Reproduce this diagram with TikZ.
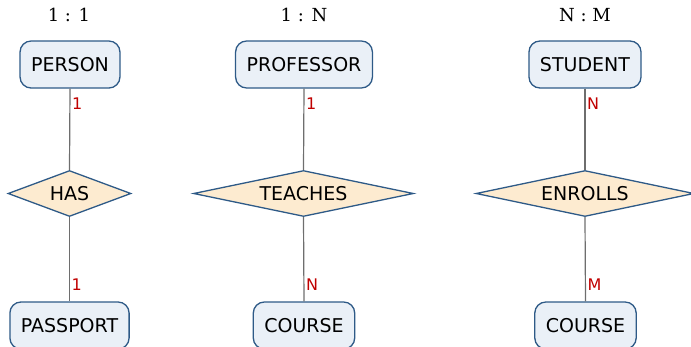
\documentclass[tikz,border=0pt]{standalone}
\usepackage{fontspec}
\usepackage{tikz}
\usetikzlibrary{shapes.geometric}

\newfontfamily\erfont{DejaVu Sans}
\newfontfamily\ratiofont{DejaVu Serif}

\definecolor{entfill}{HTML}{EAF0F7}
\definecolor{relfill}{HTML}{FDEBD0}
\definecolor{edgeblue}{HTML}{2E5A87}
\definecolor{cardred}{HTML}{C00000}
\definecolor{linkgray}{HTML}{6E6E6E}

\tikzset{
  entity/.style = {draw = edgeblue, line width = 1.3pt, fill = entfill,
    rounded corners = 11pt, minimum height = 47pt, inner xsep = 11pt,
    font = \erfont\fontsize{19}{23}\selectfont},
  relation/.style = {diamond, draw = edgeblue, line width = 1.3pt, fill = relfill,
    aspect = 4, inner sep = 0pt, minimum height = 46pt,
    font = \erfont\fontsize{19}{23}\selectfont},
  card/.style = {text = cardred, inner sep = 1.5pt, font = \erfont\fontsize{16}{19}\selectfont},
  ratio/.style = {font = \ratiofont\fontsize{18}{22}\selectfont},
  link/.style = {draw = linkgray, line width = 1.2pt}
}

\begin{document}
\begin{tikzpicture}[x = 1pt, y = -1pt]
  \useasboundingbox (0, 0) rectangle (691, 346);

  \node[ratio] (ratioA) at (69, 15) {1 : 1};
  \node[ratio] (ratioB) at (304, 15) {1 : N};
  \node[ratio] (ratioC) at (585, 15) {N : M};

  \node[entity] (person) at (70, 64.5) {PERSON};
  \node[relation, minimum width = 123pt] (has) at (69.5, 193.5) {HAS};
  \node[entity] (passport) at (69.5, 325.5) {PASSPORT};

  \node[entity] (professor) at (304, 64.5) {PROFESSOR};
  \node[relation, minimum width = 220pt] (teaches) at (303.5, 193.5) {TEACHES};
  \node[entity] (course) at (304, 325.5) {COURSE};

  \node[entity] (student) at (585, 64.5) {STUDENT};
  \node[relation, minimum width = 218pt] (enrolls) at (585, 193.5) {ENROLLS};
  \node[entity] (course2) at (585.5, 325.5) {COURSE};

  \draw[link] (person.south) -- node[card, pos = 0.18, right] {1} (has.north);
  \draw[link] (has.south) -- node[card, pos = 0.8, right] {1} (passport.north);

  \draw[link] (professor.south) -- node[card, pos = 0.18, right] {1} (teaches.north);
  \draw[link] (teaches.south) -- node[card, pos = 0.8, right] {N} (course.north);

  \draw[link] (student.south) -- node[card, pos = 0.18, right] {N} (enrolls.north);
  \draw[link] (enrolls.south) -- node[card, pos = 0.8, right] {M} (course2.north);
\end{tikzpicture}
\end{document}
